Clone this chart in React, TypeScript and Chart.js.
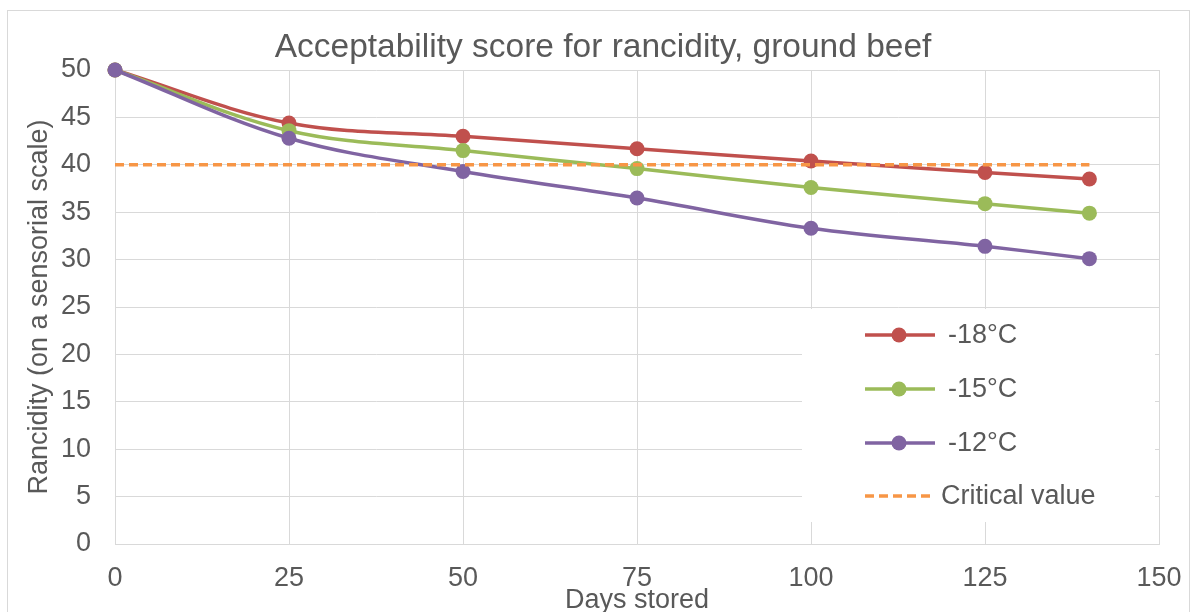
import React, { useEffect, useRef } from "react";
import { Chart, registerables } from "chart.js";

Chart.register(...registerables);

const days = [0, 25, 50, 75, 100, 125, 140];
const seriesMinus18 = [50, 44.4, 43.0, 41.7, 40.4, 39.2, 38.5];
const seriesMinus15 = [50, 43.6, 41.5, 39.6, 37.6, 35.9, 34.9];
const seriesMinus12 = [50, 42.8, 39.3, 36.5, 33.3, 31.4, 30.1];
const criticalDays = [0, 140];
const criticalValues = [40, 40];
const seriesLabels = ["-18°C", "-15°C", "-12°C", "Critical value"];
const seriesColors = ["#C0504D", "#9BBB59", "#8064A2", "#F79646"];
const chartTitle = "Acceptability score for rancidity, ground beef";

const FONT = "'Liberation Sans', Arial, sans-serif";
const TEXT = "#595959";
const GRID = "#D9D9D9";

const pts = (xs: number[], ys: number[]) => xs.map((x, i) => ({ x, y: ys[i] }));

const decorPlugin = {
  id: "decor",
  afterDraw(chart: any) {
    const ctx = chart.ctx;
    ctx.save();
    // outer chart border
    ctx.strokeStyle = GRID;
    ctx.lineWidth = 1;
    ctx.strokeRect(7.5, 10.5, 1182, 700);
    // title
    ctx.fillStyle = TEXT;
    ctx.font = `33.5px ${FONT}`;
    ctx.textAlign = "center";
    ctx.textBaseline = "middle";
    ctx.fillText(chartTitle, 603, 48);
    // legend box
    ctx.fillStyle = "#FFFFFF";
    ctx.fillRect(802, 309, 353, 213);
    const rows = [335, 389, 443, 496];
    ctx.font = `27px ${FONT}`;
    ctx.textBaseline = "middle";
    ctx.textAlign = "left";
    for (let i = 0; i < 4; i++) {
      const y = rows[i];
      ctx.strokeStyle = seriesColors[i];
      ctx.lineWidth = 3.5;
      ctx.setLineDash(i === 3 ? [9, 5] : []);
      ctx.beginPath();
      ctx.moveTo(865, y);
      ctx.lineTo(935, y);
      ctx.stroke();
      ctx.setLineDash([]);
      if (i < 3) {
        ctx.fillStyle = seriesColors[i];
        ctx.beginPath();
        ctx.arc(899, y, 7.5, 0, Math.PI * 2);
        ctx.fill();
      }
      ctx.fillStyle = TEXT;
      ctx.fillText(seriesLabels[i], i === 3 ? 941 : 948, y + 1);
    }
    ctx.restore();
  },
};

export default function App() {
  const ref = useRef<HTMLCanvasElement>(null);
  useEffect(() => {
    if (!ref.current) return;
    const mk = (i: number, data: any, order: number) => ({
      label: seriesLabels[i],
      data,
      borderColor: seriesColors[i],
      backgroundColor: seriesColors[i],
      borderWidth: 3.5,
      pointRadius: 7.5,
      pointBorderWidth: 0,
      pointBackgroundColor: seriesColors[i],
      tension: 0.35,
      clip: false,
      order,
    });
    const chart = new Chart(ref.current, {
      type: "line",
      data: {
        datasets: [
          mk(0, pts(days, seriesMinus18), 3),
          mk(1, pts(days, seriesMinus15), 2),
          mk(2, pts(days, seriesMinus12), 1),
          {
            label: seriesLabels[3],
            data: pts(criticalDays, criticalValues),
            borderColor: seriesColors[3],
            backgroundColor: seriesColors[3],
            borderWidth: 3.5,
            borderDash: [9, 5],
            pointRadius: 0,
            tension: 0,
            clip: false,
            order: 0,
          } as any,
        ],
      },
      options: {
        animation: false,
        responsive: false,
        devicePixelRatio: 1,
        layout: { padding: { left: 0, right: 33, top: 70, bottom: 0 } },
        plugins: {
          legend: { display: false },
          tooltip: { enabled: false },
          title: { display: false },
        },
        scales: {
          x: {
            type: "linear",
            min: 0,
            max: 150,
            afterFit: (s: any) => { s.height = 76; s.paddingLeft = 0; s.paddingRight = 0; },
            ticks: {
              stepSize: 25,
              color: TEXT,
              font: { family: FONT, size: 27 },
              padding: 18,
              maxRotation: 0,
            },
            grid: { color: GRID, lineWidth: 1, drawTicks: false },
            border: { color: GRID },
            title: {
              display: true,
              text: "Days stored",
              color: TEXT,
              font: { family: FONT, size: 27 },
              padding: { top: 0, bottom: 3.5 },
            },
          },
          y: {
            min: 0,
            max: 50,
            afterFit: (s: any) => { s.width = 115; s.paddingTop = 0; s.paddingBottom = 0; },
            ticks: {
              stepSize: 5,
              color: TEXT,
              font: { family: FONT, size: 27 },
              padding: 24,
            },
            grid: { color: GRID, lineWidth: 1, drawTicks: false },
            border: { color: GRID },
            title: {
              display: true,
              text: "Rancidity (on a sensorial scale)",
              color: TEXT,
              font: { family: FONT, size: 27 },
              padding: { top: 23.5, bottom: 0 },
            },
          },
        },
      },
      plugins: [decorPlugin],
    });
    return () => chart.destroy();
  }, []);
  return (
    <div style={{ position: "absolute", left: 0, top: 0, width: 1192, height: 612, overflow: "hidden", background: "#fff" }}>
      <canvas ref={ref} width={1192} height={620} style={{ display: "block" }} />
    </div>
  );
}
